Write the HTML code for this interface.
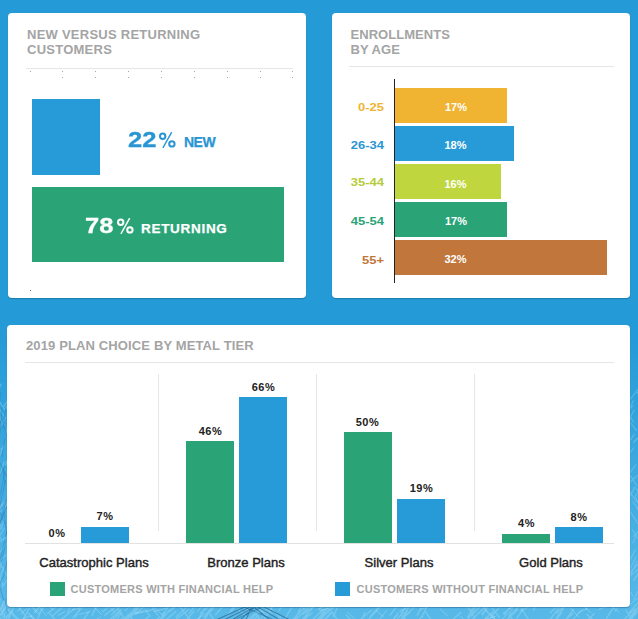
<!DOCTYPE html>
<html><head><meta charset="utf-8">
<style>
html,body{margin:0;padding:0}
body{width:638px;height:619px;overflow:hidden;position:relative;background:#249bd7;font-family:"Liberation Sans",sans-serif;font-weight:bold}
.abs{position:absolute}
.card{position:absolute;background:#fff;border-radius:4px;box-shadow:0 1px 1px rgba(20,85,120,.45)}
.title{position:absolute;color:#a4a4a4;font-size:13px;line-height:15px;white-space:nowrap}
.hr{position:absolute;height:1px;background:#e6e6e6}
.bar{position:absolute}
.t{position:absolute;white-space:nowrap}
.c{transform:translateX(-50%)}
.r{transform:translateX(-100%)}
.v{font-size:11px;color:#fff}
.a{font-size:11px;transform-origin:100% 50%;transform:translateX(-100%) scaleX(1.18)}
.p{font-size:11px;color:#222;letter-spacing:.5px}
.k{font-size:13px;color:#222;font-weight:normal;-webkit-text-stroke:.4px;letter-spacing:.02px}
.l{font-size:11px;color:#a4a4a4;letter-spacing:.24px}
.big{font-size:22px;line-height:26px;transform-origin:0 0;transform:scaleX(1.16);-webkit-text-stroke:.3px}
.pct{font-size:22px;line-height:26px;font-weight:normal;transform-origin:0 0;transform:scaleX(.86);-webkit-text-stroke:.35px}
.dot{position:absolute;width:1px;height:1px;background:#a8a8a8}
</style></head><body>
<div class="abs" id="bg" style="left:0;top:0;width:638px;height:619px;background:linear-gradient(180deg,#249bd7 0%,#249bd7 55%,#37a5dd 70%,#58b9e8 100%)"></div>
<svg class="abs" style="left:0;top:0;filter:blur(.6px)" width="638" height="619" viewBox="0 0 638 619">
  <g fill="none" stroke-linecap="round">
    <path stroke="#a6e0f8" stroke-width="1.4" opacity=".38" d="M200.5 613.1L212.7 603.5M230.7 610.7L235.9 603.1M261.7 618.0L271.9 601.2M75.9 616.8L82.1 601.9M249.7 624.2L256.5 617.1M262.1 622.3L272.7 606.0M109.6 620.1L121.0 609.4M34.6 612.3L45.5 601.4M499.4 617.5L492.4 608.4M109.4 623.2L120.0 612.2M555.5 620.5L561.1 613.4M321.3 613.7L331.9 603.3M20.1 624.9L29.9 607.2M195.4 624.7L205.0 608.1M38.3 614.0L49.5 600.8M35.0 625.6L42.4 607.5M176.2 616.7L186.9 606.9M102.6 611.7L111.8 603.9M475.0 617.9L467.2 606.0M354.8 623.4L346.3 615.1M268.7 614.8L261.2 608.0M104.6 615.4L120.2 603.5M111.6 614.8L121.1 605.7M358.0 628.2L364.7 612.4M468.4 618.6L475.6 607.1M57.7 622.5L74.4 608.5M278.7 610.8L283.5 604.5M93.7 611.1L99.3 604.0M128.2 618.6L137.1 604.7M307.9 612.6L297.1 602.9M302.7 614.2L314.7 600.4M298.9 624.8L311.9 607.9M333.3 616.7L340.7 599.7M186.3 620.0L194.1 611.3M227.3 615.3L240.6 601.8M204.1 616.8L216.6 601.9M467.5 617.3L476.6 601.5M636.6 625.0L626.1 610.7M606.7 618.2L613.8 607.2M135.2 614.4L146.1 604.4M622.5 621.2L634.7 609.1M504.3 614.7L516.1 599.8M472.5 619.0L484.7 607.3M61.2 627.3L49.5 613.1M47.7 613.3L60.6 603.4M292.3 625.7L301.4 606.0M417.3 614.9L421.4 607.6M502.6 624.4L517.4 609.4M272.4 622.4L281.1 615.7M314.9 622.5L324.5 612.5M78.8 626.8L88.4 612.5M517.0 617.9L523.0 609.7M319.3 626.0L332.2 612.2M92.1 615.2L99.1 601.1M203.2 621.9L212.7 605.6M556.4 613.1L570.6 600.6M318.0 620.2L329.9 608.7M317.5 619.5L327.6 607.8M300.7 629.8L309.3 610.4M162.5 618.2L168.8 610.6M72.9 617.8L82.3 607.5M132.5 614.5L138.9 606.6M453.1 619.2L460.6 612.6M293.0 622.3L303.8 612.1M624.2 626.7L638.8 610.3M251.5 619.0L263.8 605.7M17.0 619.2L7.8 609.4M322.0 617.0L338.3 603.9M142.6 622.0L149.0 616.3M490.6 617.7L503.4 602.4M437.2 628.8L425.4 611.6M356.8 622.9L371.2 610.2M112.4 626.5L121.6 612.3M503.5 613.4L519.3 601.1M284.1 620.0L294.9 602.2M390.0 615.1L403.3 598.1M162.3 614.8L171.8 602.6M124.1 619.0L138.6 606.3M629.3 612.5L639.7 600.6M126.3 621.2L115.5 605.0M280.3 617.6L271.2 609.3M131.6 616.3L143.0 602.6M400.5 620.4L411.0 603.7M6.2 618.7L12.0 612.1M421.7 617.0L427.2 606.4M157.9 615.2L151.2 605.6M-1.9 618.1L6.5 604.9M152.3 624.3L159.7 616.7M210.5 611.4L217.4 603.1M319.2 610.2L324.9 602.0M370.5 616.0L378.2 607.8M367.5 620.6L379.7 607.3M556.4 617.8L565.3 605.8M173.5 621.3L189.1 609.3M564.6 621.6L573.5 609.2M316.6 624.7L327.0 612.3M566.3 618.9L573.0 613.6M412.1 625.9L400.9 614.8M397.7 618.2L403.4 612.6M507.1 621.5L510.8 613.0M338.2 620.8L332.9 613.5M162.9 622.5L175.9 611.4M287.4 624.9L299.9 612.5M485.4 618.4L493.3 612.1M159.0 621.0L165.1 613.3M302.0 619.8L313.6 606.8M191.5 621.0L179.6 606.5M628.1 623.2L639.4 605.3M8.4 619.5L13.9 606.3M167.8 612.0L175.0 606.3M469.9 616.7L483.9 603.1M317.4 626.7L331.8 611.9M304.8 613.3L315.5 599.4M262.4 621.8L254.9 612.0M533.3 610.0L538.8 602.0M588.0 619.9L594.1 613.5M243.8 623.8L254.1 614.3M168.7 612.0L182.4 601.4M401.0 612.9L409.2 603.5M500.3 624.5L486.3 611.1M398.1 627.6L406.9 611.8M34.9 620.7L28.3 613.3M550.4 619.2L559.0 607.4M215.5 614.7L223.0 606.2M304.3 619.3L312.2 612.8M137.3 625.0L127.9 614.2M215.4 621.8L209.3 613.0M53.0 615.5L62.8 606.7M511.9 614.2L520.9 603.8M269.5 621.3L258.6 606.4M312.4 619.8L323.2 609.4M393.7 625.3L409.7 612.5M252.7 622.4L238.0 608.9M550.2 612.8L563.6 599.9M516.7 626.2L509.5 614.8M595.6 622.3L587.1 614.5M67.8 612.7L71.4 603.9M531.8 624.4L521.4 608.6M-2.5 615.7L4.2 600.1M189.3 613.4L198.3 602.5M482.2 613.7L492.5 601.3M242.8 615.5L252.4 603.2M629.5 618.2L641.9 602.1M297.8 613.7L308.7 605.3M408.3 613.0L420.6 600.7M272.0 613.7L263.9 606.0M25.9 616.4L17.6 605.7M-0.2 616.4L8.8 604.4M123.7 621.1L132.1 613.9M482.5 615.0L487.8 605.8"/>
    <path stroke="#c9eefc" stroke-width="1" opacity=".35" d="M136.7 613.6L148.3 610.9M585.9 609.8L590.4 603.9M37.6 611.6L28.5 602.2M197.6 611.4L203.3 604.0M114.1 621.6L122.7 618.5M465.3 621.1L460.3 616.0M52.8 609.4L47.1 605.0M618.6 612.1L611.8 606.1M508.3 608.9L517.5 605.7M590.7 612.4L582.6 605.4M400.1 611.0L405.9 608.4M17.2 611.4L27.3 602.5M578.5 616.8L568.0 605.3M23.6 618.5L32.0 615.9M-0.6 618.9L5.4 615.8M520.1 611.2L533.9 604.0M249.4 612.1L243.8 607.4M310.6 608.0L323.0 604.3M101.4 614.5L91.7 604.6M383.3 616.5L376.9 610.9M37.7 607.9L44.9 605.2M269.6 609.8L274.7 605.3M58.1 615.3L64.9 611.7M79.3 614.5L90.3 611.4M497.6 621.7L489.9 613.0M235.1 619.8L240.8 614.3M147.0 611.1L153.5 609.4M153.8 611.6L167.3 607.8M410.9 625.3L422.7 616.4M150.2 616.3L144.7 609.2M72.8 609.7L79.3 608.0M320.5 610.6L333.7 606.7M599.0 609.5L607.7 605.7M20.6 613.9L27.2 608.3M377.9 621.2L387.0 610.3M257.1 612.8L264.8 610.4M502.3 619.0L512.4 609.4M419.9 609.2L427.4 607.4M447.4 615.6L439.9 608.7M34.9 619.4L30.6 614.9M482.7 619.8L495.5 616.3M124.8 611.0L135.1 601.2M261.9 621.6L256.4 616.9M36.8 612.9L29.2 603.3M233.8 616.1L239.4 611.0M114.6 612.0L104.6 602.0M614.8 611.4L618.9 606.5M578.0 612.9L586.8 608.5M571.9 620.7L581.8 610.0M393.7 618.2L398.7 612.2M134.5 613.2L143.8 610.8M90.8 624.1L100.0 617.0M487.0 611.2L479.5 601.9M354.3 618.5L347.6 612.3M162.6 615.6L155.4 608.1M18.6 619.0L11.2 611.5M391.4 622.1L397.9 614.5M46.1 615.5L39.6 607.3M318.1 608.5L332.9 604.8M195.8 620.2L204.5 613.4"/>
    <path stroke="#9bd8f5" stroke-width="1.2" opacity=".4" d="M0.9 610.3L3.4 604.2M0.2 552.0L9.3 539.0M2.0 615.1L4.8 602.2M3.5 585.9L-2.7 572.3M-1.5 582.3L3.6 567.5M2.3 524.5L4.3 518.4M4.1 424.8L-4.1 412.3M-1.6 570.5L1.3 564.7M3.3 615.1L11.5 606.7M4.5 408.7L10.9 401.3M0.1 474.7L4.2 461.7M-0.2 426.9L5.9 417.6M5.2 616.5L-2.3 605.3M-3.0 452.9L3.9 446.2M-3.3 499.1L0.4 494.3M4.5 409.8L-0.7 401.1M4.2 416.5L-1.5 407.4M-1.6 609.0L0.5 598.7M0.8 418.4L-3.4 410.8M1.2 539.2L-5.0 529.1M-1.1 508.6L10.3 498.8M-4.4 509.5L1.4 504.6M6.6 408.8L9.4 401.3M2.2 504.1L7.2 498.2M-1.1 457.9L3.9 445.6M-1.0 513.9L7.5 503.5M-3.0 562.4L9.3 552.2M-2.8 539.6L4.5 528.2M2.4 586.8L8.9 577.2M6.2 575.3L-0.6 561.6M3.5 406.6L12.2 394.3M6.4 433.0L8.1 423.9M5.6 465.5L9.8 451.6M4.1 618.6L12.2 610.7M-3.0 390.7L-0.8 381.9M-1.5 532.2L2.2 525.4M-2.8 410.3L-0.5 403.2M-4.7 395.9L1.3 384.0M2.0 528.2L-4.6 514.1M0.7 541.3L7.0 536.2"/>
    <path stroke="#2a7db5" stroke-width="1" opacity=".45" d="M-2.1 422.0L0.3 393.1M-0.5 436.5L2.2 407.2M-3.2 481.5L5.1 465.9M-3.0 572.8L4.7 540.7M2.3 509.5L5.7 499.1M-1.2 510.8L5.5 480.4M2.0 456.6L4.8 438.2M-3.0 533.6L7.7 495.7M4.9 523.5L-8.8 491.5M5.3 536.8L10.0 522.8M7.3 612.0L5.0 598.9M2.9 427.9L5.8 407.5M-0.9 500.8L4.9 472.0M7.3 477.6L-3.9 455.2M3.8 600.2L-0.2 587.0M1.8 560.6L6.1 541.3M-5.4 595.1L4.5 574.2M7.6 541.4L3.9 512.3M-1.2 525.5L11.1 496.9M11.2 449.0L1.6 418.8M5.0 484.1L3.0 468.6M3.8 573.9L11.7 545.3"/>
    <path stroke="#9bd8f5" stroke-width="1.2" opacity=".35" d="M628.3 422.1L634.0 410.1M636.4 430.4L631.2 423.4M635.1 496.8L642.4 485.0M638.0 502.4L635.2 496.8M628.5 563.2L635.2 549.7M637.6 523.3L629.9 511.1M640.3 542.0L632.4 529.9M633.4 536.3L639.6 530.3M633.9 599.8L639.5 587.9M633.7 441.9L638.1 437.6M640.8 507.0L636.1 500.7M631.4 571.8L641.0 560.2M626.2 445.7L634.2 434.4M637.2 508.9L641.5 499.3M627.9 500.0L634.6 487.4M629.8 482.2L639.6 473.9M630.6 567.7L636.0 556.8M633.8 442.4L638.2 438.2M636.8 485.5L630.4 475.6M626.7 457.0L633.7 448.1M628.7 574.2L634.1 568.9M641.9 402.1L636.6 390.8M633.6 579.9L640.2 569.5M633.9 580.5L642.1 569.6M630.8 571.3L641.5 561.5M628.1 475.0L635.8 464.8M629.7 576.8L638.9 568.2M635.9 501.2L629.2 490.6M627.4 606.4L638.6 597.6M636.6 571.5L641.3 563.3M633.0 542.9L637.8 531.3M630.1 407.8L633.4 400.7M631.2 574.0L636.8 561.2M633.0 595.7L628.7 590.2M641.2 514.3L636.6 507.8M640.3 512.0L632.9 501.7M627.5 410.7L633.1 405.9M630.4 399.1L638.5 388.9M633.5 421.8L629.9 416.9M640.5 495.7L636.0 488.0"/>
    <path stroke="#2b6c98" stroke-width="1.1" opacity=".75" d="M216 620L247 606M224 620L250 607M232 620L252 608M262 606L290 620M258 607L280 620M255 608L270 620M240 620L256 606M246 620L250 610"/>
    <path stroke="#1f5f8a" stroke-width="1" opacity=".5" d="M236 619L262 607M244 607L272 619"/>
  </g>
</svg>

<!-- card 1 -->
<div class="card" style="left:8px;top:13px;width:298px;height:285px"></div>
<div class="title" style="left:27px;top:27px;letter-spacing:.25px">NEW VERSUS RETURNING<br>CUSTOMERS</div>
<div class="hr" style="left:26px;top:68px;width:267px"></div>
<div class="bar" style="left:32px;top:99px;width:68px;height:76px;background:#279bd8"></div>
<div class="bar" style="left:32px;top:187px;width:252px;height:75px;background:#2aa477"></div>
<div class="t big" style="left:128px;top:127px;color:#2a95d3;width:28.4px">22</div>
<svg class="abs" style="left:158.6px;top:132px" width="17" height="16" viewBox="0 0 17 16"><g fill="none" stroke="#2a95d3"><circle cx="3.7" cy="4.3" r="2.7" stroke-width="2"/><circle cx="12.9" cy="11.9" r="2.7" stroke-width="2"/><path d="M12.7 .1L3.9 15.9" stroke-width="1.4"/></g></svg>
<div class="t" style="left:184px;top:133px;color:#2a95d3;font-size:14px;line-height:18px;letter-spacing:-.5px;-webkit-text-stroke:.25px">NEW</div>
<div class="t big" style="left:84.6px;top:213px;color:#fff;width:29.6px">78</div>
<svg class="abs" style="left:117px;top:217.6px" width="17" height="16" viewBox="0 0 17 16"><g fill="none" stroke="#fff"><circle cx="3.7" cy="4.3" r="2.7" stroke-width="2"/><circle cx="12.9" cy="11.9" r="2.7" stroke-width="2"/><path d="M12.7 .1L3.9 15.9" stroke-width="1.4"/></g></svg>
<div class="t" style="left:141px;top:220px;color:#fff;font-size:13.5px;line-height:17px;letter-spacing:.7px;-webkit-text-stroke:.25px">RETURNING</div>

<div class="dot" style="left:30px;top:71px"></div><div class="dot" style="left:62px;top:71px"></div><div class="dot" style="left:95px;top:71px"></div><div class="dot" style="left:128px;top:71px"></div><div class="dot" style="left:161px;top:71px"></div><div class="dot" style="left:194px;top:71px"></div><div class="dot" style="left:227px;top:71px"></div><div class="dot" style="left:260px;top:71px"></div><div class="dot" style="left:292px;top:71px"></div><div class="dot" style="left:62px;top:77px"></div><div class="dot" style="left:95px;top:77px"></div><div class="dot" style="left:128px;top:77px"></div><div class="dot" style="left:161px;top:77px"></div><div class="dot" style="left:194px;top:77px"></div><div class="dot" style="left:227px;top:77px"></div><div class="dot" style="left:260px;top:77px"></div><div class="dot" style="left:292px;top:77px"></div><div class="dot" style="left:30px;top:290px;background:#777"></div>

<!-- card 2 -->
<div class="card" style="left:332px;top:13px;width:298px;height:285px"></div>
<div class="title" style="left:350.5px;top:27px;letter-spacing:.05px">ENROLLMENTS<br>BY AGE</div>
<div class="hr" style="left:349px;top:66px;width:265px"></div>
<div class="abs" style="left:394px;top:79px;width:1.3px;height:204px;background:#222"></div>
<div class="bar" style="left:395px;top:88px;width:112px;height:34.5px;background:#f0b432"></div>
<div class="bar" style="left:395px;top:126px;width:119px;height:34.5px;background:#279bd8"></div>
<div class="bar" style="left:395px;top:164px;width:106px;height:34.5px;background:#c0d63e"></div>
<div class="bar" style="left:395px;top:202px;width:112px;height:34.5px;background:#2aa477"></div>
<div class="bar" style="left:395px;top:240px;width:212px;height:34.5px;background:#c1773b"></div>
<div class="t a" style="left:384.4px;top:101px;color:#f0b432">0-25</div>
<div class="t a" style="left:384.4px;top:139px;color:#2a95d3">26-34</div>
<div class="t a" style="left:384.4px;top:176px;color:#b5cc3a">35-44</div>
<div class="t a" style="left:384.4px;top:215px;color:#2aa477">45-54</div>
<div class="t a" style="left:384.4px;top:254px;color:#c1773b">55+</div>
<div class="t c v" style="left:456px;top:101px">17%</div>
<div class="t c v" style="left:455.5px;top:139px">18%</div>
<div class="t c v" style="left:455.5px;top:178px">16%</div>
<div class="t c v" style="left:456px;top:215px">17%</div>
<div class="t c v" style="left:455.5px;top:253px">32%</div>

<!-- card 3 -->
<div class="card" style="left:7px;top:325px;width:623px;height:282px"></div>
<div class="title" style="left:26px;top:338px;letter-spacing:.13px">2019 PLAN CHOICE BY METAL TIER</div>
<div class="hr" style="left:25px;top:362px;width:589px"></div>
<div class="abs" style="left:158px;top:374px;width:1px;height:157px;background:#e6e6e6"></div>
<div class="abs" style="left:316px;top:374px;width:1px;height:157px;background:#e6e6e6"></div>
<div class="abs" style="left:474px;top:374px;width:1px;height:157px;background:#e6e6e6"></div>
<div class="hr" style="left:25px;top:543px;width:589px;background:#e2e2e2"></div>

<div class="bar" style="left:81px;top:527px;width:48px;height:16px;background:#279bd8"></div>
<div class="bar" style="left:186px;top:441px;width:48px;height:102px;background:#2aa477"></div>
<div class="bar" style="left:239px;top:397px;width:48px;height:146px;background:#279bd8"></div>
<div class="bar" style="left:344px;top:432px;width:48px;height:111px;background:#2aa477"></div>
<div class="bar" style="left:397px;top:499px;width:48px;height:44px;background:#279bd8"></div>
<div class="bar" style="left:502px;top:534px;width:48px;height:9px;background:#2aa477"></div>
<div class="bar" style="left:555px;top:527px;width:48px;height:16px;background:#279bd8"></div>

<div class="t c p" style="left:57px;top:527px">0%</div>
<div class="t c p" style="left:105px;top:510px">7%</div>
<div class="t c p" style="left:210.5px;top:425px">46%</div>
<div class="t c p" style="left:263.5px;top:381px">66%</div>
<div class="t c p" style="left:367.5px;top:416px">50%</div>
<div class="t c p" style="left:421.5px;top:482px">19%</div>
<div class="t c p" style="left:526.5px;top:517px">4%</div>
<div class="t c p" style="left:579px;top:511px">8%</div>

<div class="t c k" style="left:94px;top:555px">Catastrophic Plans</div>
<div class="t c k" style="left:246px;top:555px">Bronze Plans</div>
<div class="t c k" style="left:399px;top:555px">Silver Plans</div>
<div class="t c k" style="left:551px;top:555px">Gold Plans</div>

<div class="bar" style="left:50px;top:581.5px;width:15px;height:14.5px;background:#2aa477"></div>
<div class="t l" style="left:70.6px;top:583px">CUSTOMERS WITH FINANCIAL HELP</div>
<div class="bar" style="left:335px;top:581.5px;width:15px;height:14.5px;background:#279bd8"></div>
<div class="t l" style="left:356.6px;top:583px">CUSTOMERS WITHOUT FINANCIAL HELP</div>
</body></html>
